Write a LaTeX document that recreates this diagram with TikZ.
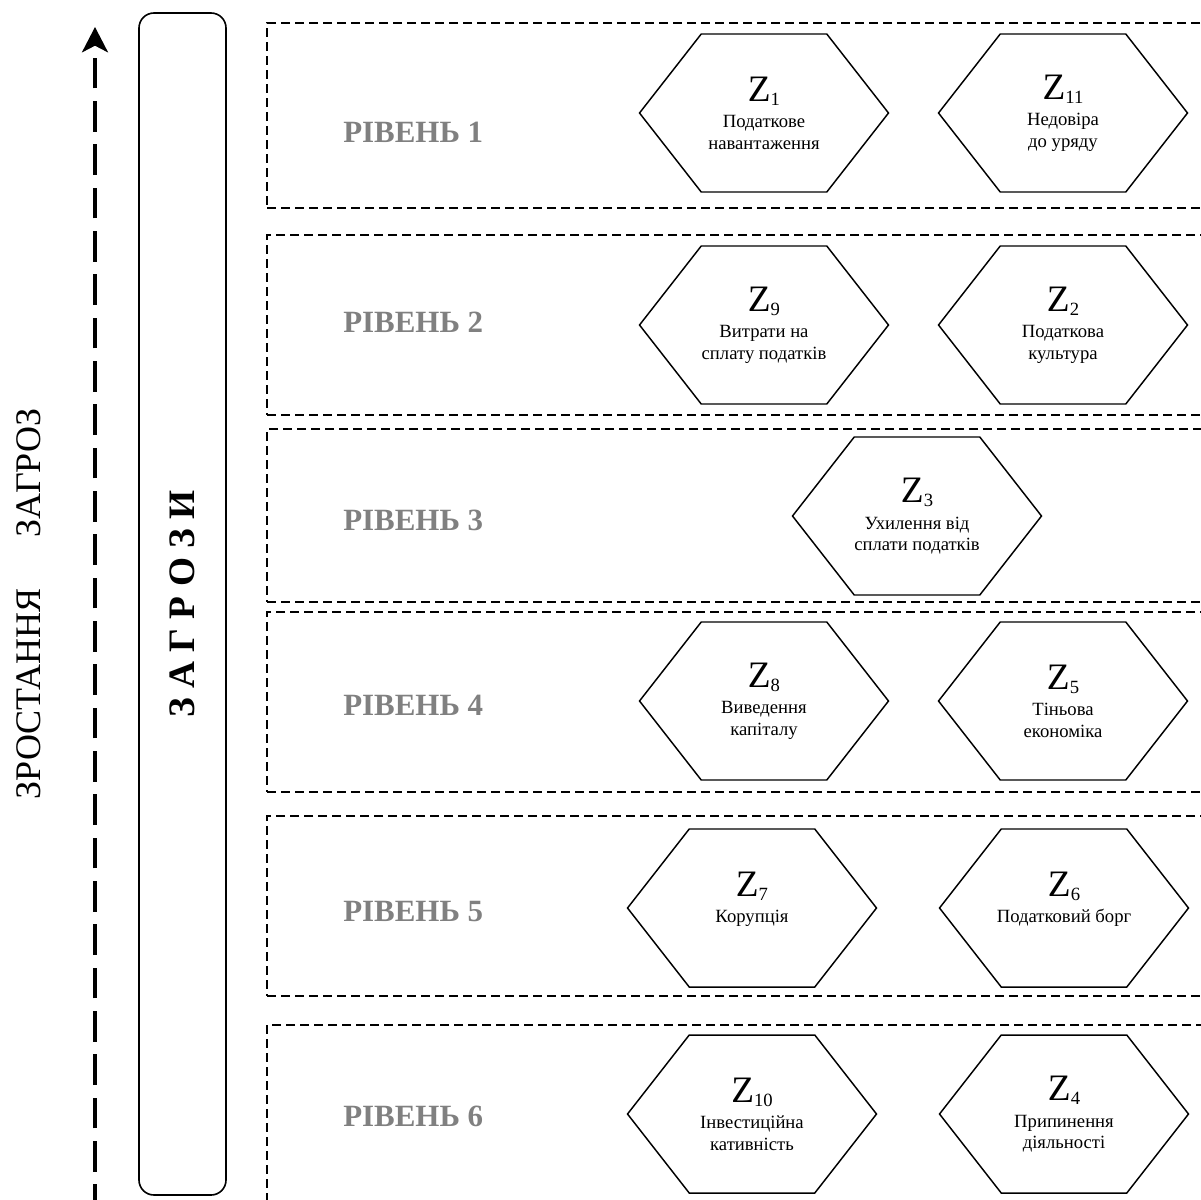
\documentclass[tikz,border=0pt]{standalone}
\usepackage{fontspec}
\setmainfont{Liberation Serif}
\usetikzlibrary{positioning}
\usetikzlibrary{shapes.symbols}
\usetikzlibrary{arrows.meta}
\definecolor{lvlgray}{RGB}{128,128,128}
\newcommand{\zlab}[1]{{\fontsize{28}{30}\selectfont Z}{\fontsize{14}{14}\selectfont\raisebox{-3pt}{#1}}\\[4pt]}

\begin{document}
\begin{tikzpicture}[x=0.75pt,y=-0.75pt,node distance=224.25pt,on grid,
		threat/.style={signal,signal to=west and east,signal pointer angle=104,draw=black,line width=1.1pt,minimum width=186.75pt,minimum height=118.5pt,inner sep=0pt,align=center,font=\fontsize{14}{16}\selectfont},
		levelbox/.style={rectangle,draw=black,line width=1.1pt,dash pattern=on 6.75pt off 3.75pt,minimum width=711pt,inner sep=0pt},
		levelname/.style={anchor=west,inner sep=0pt,text=lvlgray,font=\fontsize{23.2}{25}\selectfont\bfseries},
		threatbar/.style={rectangle,rounded corners=11.25pt,draw=black,line width=1.2pt,minimum width=65.25pt,minimum height=886.5pt},
		growarrow/.style={line width=2.5pt,dash pattern=on 23pt off 9.5pt,-{Stealth[length=19pt,width=19.5pt,inset=5pt]}}]
		\useasboundingbox (0,0) rectangle (1201,1199);
		
		\node[levelbox,minimum height=138.75pt]  (lvl1)  at (741,115.5)  {};
		\node[levelbox,minimum height=135pt]     (lvl2)  at (741,325)    {};
		\node[levelbox,minimum height=129.75pt]  (lvl3)  at (741,515.5)  {};
		\node[levelbox,minimum height=135pt]     (lvl4)  at (741,702)    {};
		\node[levelbox,minimum height=135pt]     (lvl5)  at (741,906)    {};
		\node[levelbox,minimum height=142.5pt]   (lvl6)  at (741,1120)   {};
		
		\node[levelname]  (name1)  at (343,132)   {РІВЕНЬ 1};
		\node[levelname]  (name2)  at (343,322)   {РІВЕНЬ 2};
		\node[levelname]  (name3)  at (343,520)   {РІВЕНЬ 3};
		\node[levelname]  (name4)  at (343,705)   {РІВЕНЬ 4};
		\node[levelname]  (name5)  at (343,912)   {РІВЕНЬ 5};
		\node[levelname]  (name6)  at (343,1116)  {РІВЕНЬ 6};
		
		\node[threat]  (z1)   at (764,113)         {\zlab{1}Податкове\\навантаження};
		\node[threat]  (z11)  [right=of z1]        {\zlab{11}Недовіра\\до уряду};
		\node[threat]  (z9)   at (764,325)         {\zlab{9}Витрати на\\сплату податків};
		\node[threat]  (z2)   [right=of z9]        {\zlab{2}Податкова\\культура};
		\node[threat]  (z3)   at (917,516)         {\zlab{3}Ухилення від\\сплати податків};
		\node[threat]  (z8)   at (764,701)         {\zlab{8}Виведення\\капіталу};
		\node[threat]  (z5)   [right=of z8]        {\zlab{5}Тіньова\\економіка};
		\node[threat]  (z7)   at (752,908)         {\zlab{7}Корупція\\\mbox{}};
		\node[threat,inner xsep=-4pt]  (z6)   [right=234pt of z7]  {\zlab{6}Податковий борг\\\mbox{}};
		\node[threat]  (z10)  at (752,1114)        {\zlab{10}Інвестиційна\\кативність};
		\node[threat]  (z4)   [right=234pt of z10] {\zlab{4}Припинення\\діяльності};
		
		\node[threatbar]  (bar)  at (182.5,604)  {};
		\node[rotate=90,inner sep=0pt,font=\fontsize{28}{30}\selectfont\bfseries] (barlabel) at (bar) {З А Г Р О З И};
		\node[rotate=90,inner sep=0pt,font=\fontsize{27}{30}\selectfont] (growth) at (28.5,604) {ЗРОСТАННЯ\hspace{1.4em}ЗАГРОЗ};
		
		\coordinate (arrowfoot) at (95,1215);
		\coordinate (arrowtip)  at (95,27);
		\draw[growarrow] (arrowfoot) -- (arrowtip);
		\end{tikzpicture}
\end{document}
